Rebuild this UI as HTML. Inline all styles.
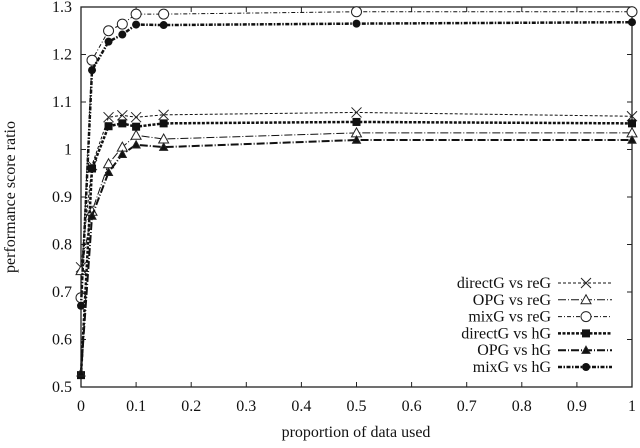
<!DOCTYPE html>
<html><head><meta charset="utf-8"><style>
body{margin:0;background:#fff;}
svg text{font-family:"Liberation Serif",serif;font-size:16px;fill:#111;}
</style></head><body>
<svg id="chart" width="640" height="443" xmlns="http://www.w3.org/2000/svg">
<rect x="81" y="7" width="551" height="380" fill="none" stroke="#222" stroke-width="1.3"/>
<g id="axes"></g>
<g id="series"></g>
<g id="legend"></g>
<text x="356" y="437" text-anchor="middle">proportion of data used</text>
<text transform="translate(15,197) rotate(-90)" text-anchor="middle">performance score ratio</text>
</svg>
<script>
const xTicks=[0,0.1,0.2,0.3,0.4,0.5,0.6,0.7,0.8,0.9,1];
const xTickLabels=["0","0.1","0.2","0.3","0.4","0.5","0.6","0.7","0.8","0.9","1"];
const yTicks=[0.5,0.6,0.7,0.8,0.9,1,1.1,1.2,1.3];
const yTickLabels=["0.5","0.6","0.7","0.8","0.9","1","1.1","1.2","1.3"];
const xVals=[0,0.02,0.05,0.075,0.1,0.15,0.5,1];
const seriesNames=["directG vs reG","OPG vs reG","mixG vs reG","directG vs hG","OPG vs hG","mixG vs hG"];
const directReG=[0.752,0.967,1.068,1.072,1.068,1.073,1.078,1.07];
const opgReG=[0.745,0.87,0.97,1.005,1.03,1.022,1.035,1.035];
const mixReG=[0.688,1.188,1.25,1.264,1.285,1.285,1.29,1.29];
const directHG=[0.525,0.96,1.049,1.055,1.048,1.055,1.058,1.055];
const opgHG=[0.53,0.86,0.952,0.99,1.01,1.005,1.02,1.02];
const mixHG=[0.671,1.167,1.227,1.242,1.263,1.262,1.265,1.268];
const NS="http://www.w3.org/2000/svg";
const X=v=>81+v*551, Y=v=>387-(v-0.5)*475;
function mk(t,a,p){const e=document.createElementNS(NS,t);for(const k in a)e.setAttribute(k,a[k]);p.appendChild(e);return e;}
const axes=document.getElementById('axes');
xTicks.forEach((v,i)=>{
 const t=mk('line',{x1:X(v),x2:X(v),y1:387,y2:382,stroke:'#222'},axes);
 
 
 const t2=mk('line',{x1:X(v),x2:X(v),y1:7,y2:12,stroke:'#222'},axes);
 
 
 const l=mk('text',{x:X(v),y:411,'text-anchor':'middle'},axes);l.textContent=xTickLabels[i];
 
 
});
yTicks.forEach((v,i)=>{
 const t=mk('line',{x1:81,x2:86,y1:Y(v),y2:Y(v),stroke:'#222'},axes);
 
 
 const t2=mk('line',{x1:627,x2:632,y1:Y(v),y2:Y(v),stroke:'#222'},axes);
 
 
 const l=mk('text',{x:72,y:Y(v)+5,'text-anchor':'end'},axes);l.textContent=yTickLabels[i];
 
 
});
const styles=[
 {d:directReG,w:1,dash:'3,2',m:'x'},
 {d:opgReG,w:1,dash:'8,2,1,2',m:'tri'},
 {d:mixReG,w:1,dash:'4,2,1,2',m:'circ'},
 {d:directHG,w:2.5,dash:'3,1.5',m:'sq'},
 {d:opgHG,w:2,dash:'8,2,1,2',m:'ftri'},
 {d:mixHG,w:2.5,dash:'4,1.5,1.5,1.5',m:'fcirc'}];
function marker(g,type,x,y){
 let e;
 if(type==='x'){e=mk('path',{d:`M${x-5},${y-5}L${x+5},${y+5}M${x-5},${y+5}L${x+5},${y-5}`,stroke:'#222','stroke-width':1,fill:'none'},g);}
 else if(type==='tri'||type==='ftri'){const s=type==='tri'?5:4;e=mk('path',{d:`M${x},${y-s}L${x+s},${y+s*0.8}L${x-s},${y+s*0.8}Z`,stroke:'#222','stroke-width':1,fill:type==='tri'?'#fff':'#111'},g);}
 else if(type==='circ'){e=mk('circle',{cx:x,cy:y,r:5,stroke:'#222','stroke-width':1,fill:'#fff'},g);}
 else if(type==='fcirc'){e=mk('circle',{cx:x,cy:y,r:4,fill:'#111'},g);}
 else {e=mk('rect',{x:x-4,y:y-4,width:8,height:8,fill:'#111'},g);}
 
 
}
const sg=document.getElementById('series'), lg=document.getElementById('legend');
styles.forEach((s,i)=>{
 const g=mk('g',{},sg);
 
 
 const p=mk('polyline',{points:xVals.map((x,j)=>X(x)+','+Y(s.d[j])).join(' '),fill:'none',stroke:'#111','stroke-width':s.w,'stroke-dasharray':s.dash},g);
 
 
 xVals.forEach((x,j)=>marker(g,s.m,X(x),Y(s.d[j])));
 const ly=283+i*16.8;
 const le=mk('g',{},lg);
 
 
 const t=mk('text',{x:551,y:ly+5,'text-anchor':'end'},le);t.textContent=seriesNames[i];
 mk('line',{x1:558,x2:612,y1:ly,y2:ly,stroke:'#111','stroke-width':s.w,'stroke-dasharray':s.dash},le);
 marker(le,s.m,586,ly);
});
</script>
</body></html>
